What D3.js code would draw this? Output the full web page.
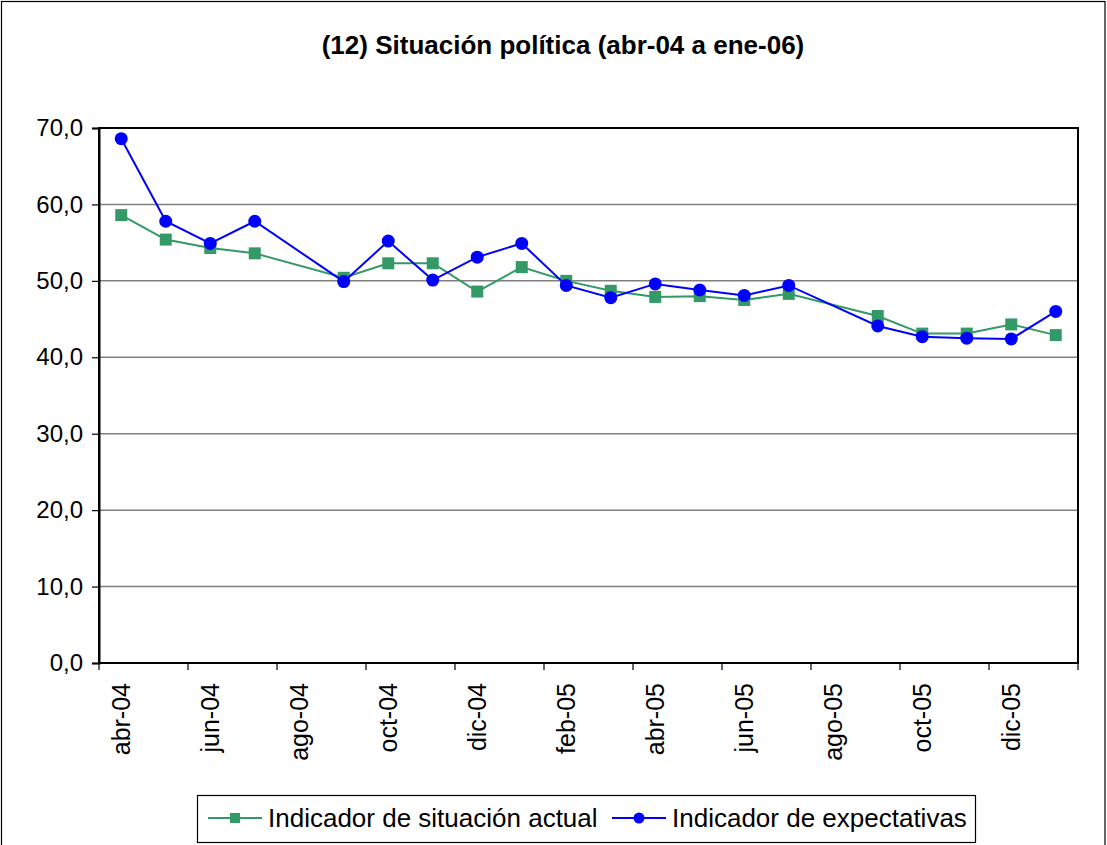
<!DOCTYPE html>
<html>
<head>
<meta charset="utf-8">
<script src="https://cdn.jsdelivr.net/npm/d3@7"></script>
<style>
  body { margin: 0; background: #fff; }
  svg text { font-family: "Liberation Sans", Arial, sans-serif; fill: #000; }
</style>
</head>
<body>
<div id="chart"></div>
<script>
// months, abr-04 to ene-06 (ago-04 and ago-05 have no survey)
var months = ['abr-04', 'may-04', 'jun-04', 'jul-04', 'ago-04', 'sep-04', 'oct-04', 'nov-04', 'dic-04',
              'ene-05', 'feb-05', 'mar-05', 'abr-05', 'may-05', 'jun-05', 'jul-05', 'ago-05', 'sep-05',
              'oct-05', 'nov-05', 'dic-05', 'ene-06'];

var situacionActual = [58.6, 55.4, 54.3, 53.6, null, 50.4, 52.3, 52.3, 48.6, 51.8, 50.0, 48.7, 47.9,
                       48.0, 47.5, 48.3, null, 45.4, 43.1, 43.1, 44.3, 42.9];

var expectativas = [68.6, 57.8, 54.9, 57.8, null, 49.9, 55.2, 50.1, 53.1, 54.9, 49.4, 47.8, 49.6,
                    48.8, 48.1, 49.4, null, 44.1, 42.7, 42.5, 42.4, 46.0];

var yTicks = [0, 10, 20, 30, 40, 50, 60, 70];

var series = [
  {name: 'Indicador de situación actual', values: situacionActual, color: '#339966', marker: 'square'},
  {name: 'Indicador de expectativas', values: expectativas, color: '#0000ff', marker: 'circle'}
];

var W = 1107, H = 845;
var margin = {top: 128, right: 29, bottom: 182, left: 99};

var svg = d3.select('#chart').append('svg')
            .attr('width', W)
            .attr('height', H);

// outer chart border
svg.append('rect')
   .attr('x', 1.5).attr('y', 1.5)
   .attr('width', W - 3.5).attr('height', H + 10)
   .attr('fill', 'none')
   .attr('stroke', '#000')
   .attr('stroke-width', 1.2);

svg.append('text')
   .attr('x', 563)
   .attr('y', 54)
   .attr('text-anchor', 'middle')
   .style('font-size', '26px')
   .style('font-weight', 'bold')
   .text('(12) Situación política (abr-04 a ene-06)');

var x = d3.scaleBand().domain(months).range([margin.left, W - margin.right]).padding(0);
var y = d3.scaleLinear().domain([0, 70]).range([H - margin.bottom, margin.top]);

// gridlines
svg.append('g')
   .selectAll('line')
   .data(yTicks.filter(function(d) { return d > 0 && d < 70; }))
   .enter()
   .append('line')
   .attr('x1', x.range()[0]).attr('x2', x.range()[1])
   .attr('y1', function(d) { return y(d); })
   .attr('y2', function(d) { return y(d); })
   .attr('stroke', '#808080')
   .attr('stroke-width', 1.5);

// plot frame
svg.append('rect')
   .attr('x', x.range()[0]).attr('y', y(70))
   .attr('width', x.range()[1] - x.range()[0])
   .attr('height', y(0) - y(70))
   .attr('fill', 'none')
   .attr('stroke', '#000')
   .attr('stroke-width', 2);

// y axis
var yAxis = d3.axisLeft(y)
              .tickValues(yTicks)
              .tickSize(7)
              .tickPadding(9)
              .tickFormat(function(d) { return d3.format('.1f')(d).replace('.', ','); });

svg.append('g')
   .attr('transform', 'translate(' + x.range()[0] + ',0)')
   .call(yAxis)
   .call(function(g) {
     g.select('.domain').attr('stroke', '#000').attr('stroke-width', 2);
     g.selectAll('.tick line').attr('stroke', '#000').attr('stroke-width', 1.2);
     g.selectAll('.tick text').style('font-size', '24px').attr('font-family', null);
   });

// x axis: tick marks at band edges every two months, labels centred and rotated
var edgeTicks = months.filter(function(d, i) { return i % 2 === 0; })
                      .map(function(d) { return x(d); })
                      .concat([x.range()[1]]);

svg.append('g')
   .selectAll('line')
   .data(edgeTicks)
   .enter()
   .append('line')
   .attr('x1', function(d) { return d; })
   .attr('x2', function(d) { return d; })
   .attr('y1', y(0))
   .attr('y2', y(0) + 7)
   .attr('stroke', '#000')
   .attr('stroke-width', 1.2);

svg.append('g')
   .selectAll('text')
   .data(months.filter(function(d, i) { return i % 2 === 0; }))
   .enter()
   .append('text')
   .attr('transform', function(d) {
     return 'translate(' + (x(d) + x.bandwidth() / 2) + ',' + (y(0) + 20) + ') rotate(-90)';
   })
   .attr('text-anchor', 'end')
   .attr('dy', '0.35em')
   .style('font-size', '25px')
   .text(function(d) { return d; });

// series
var line = d3.line()
             .x(function(d) { return x(d.m) + x.bandwidth() / 2; })
             .y(function(d) { return y(d.v); });

series.forEach(function(s) {
  var pts = months.map(function(m, i) { return {m: m, v: s.values[i]}; })
                  .filter(function(d) { return d.v !== null; });

  svg.append('path')
     .datum(pts)
     .attr('d', line)
     .attr('fill', 'none')
     .attr('stroke', s.color)
     .attr('stroke-width', 2);

  var g = svg.append('g');
  if (s.marker === 'square') {
    g.selectAll('rect')
     .data(pts)
     .enter()
     .append('rect')
     .attr('x', function(d) { return x(d.m) + x.bandwidth() / 2 - 6; })
     .attr('y', function(d) { return y(d.v) - 6; })
     .attr('width', 12).attr('height', 12)
     .attr('fill', s.color);
  } else {
    g.selectAll('circle')
     .data(pts)
     .enter()
     .append('circle')
     .attr('cx', function(d) { return x(d.m) + x.bandwidth() / 2; })
     .attr('cy', function(d) { return y(d.v); })
     .attr('r', 6.5)
     .attr('fill', s.color);
  }
});

// legend
var legend = svg.append('g');
legend.append('rect')
      .attr('x', 197.5).attr('y', 795.5)
      .attr('width', 778).attr('height', 47)
      .attr('fill', '#fff')
      .attr('stroke', '#000')
      .attr('stroke-width', 1.2);

var legendX = [208, 612];
series.forEach(function(s, i) {
  var lx = legendX[i], ly = 818;
  legend.append('line')
        .attr('x1', lx).attr('x2', lx + 54)
        .attr('y1', ly).attr('y2', ly)
        .attr('stroke', s.color)
        .attr('stroke-width', 2);
  if (s.marker === 'square') {
    legend.append('rect')
          .attr('x', lx + 27 - 5).attr('y', ly - 5)
          .attr('width', 10).attr('height', 10)
          .attr('fill', s.color);
  } else {
    legend.append('circle')
          .attr('cx', lx + 27).attr('cy', ly)
          .attr('r', 5.5)
          .attr('fill', s.color);
  }
  legend.append('text')
        .attr('x', lx + 60)
        .attr('y', ly)
        .attr('dy', '0.35em')
        .style('font-size', '26px')
        .text(s.name);
});
</script>
</body>
</html>
